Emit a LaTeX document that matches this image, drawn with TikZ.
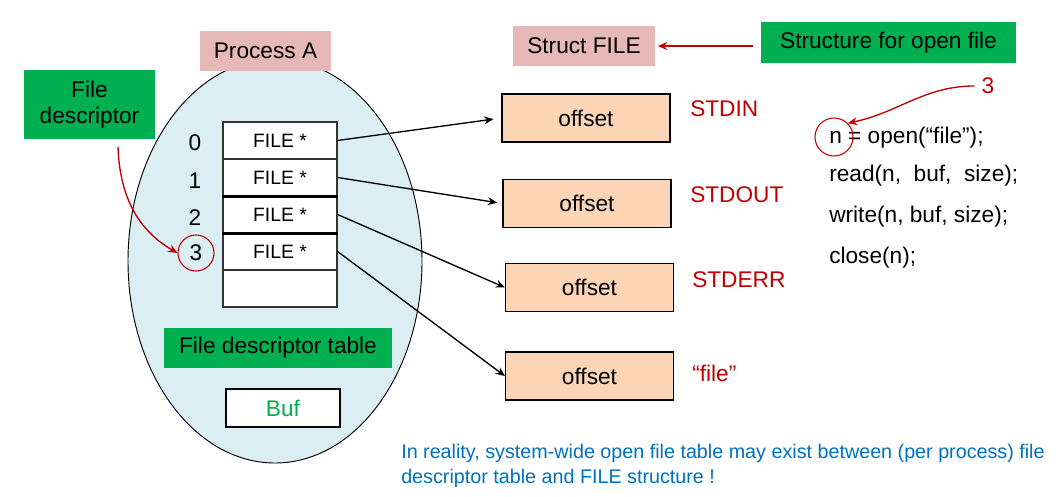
\documentclass[tikz,border=0pt]{standalone}
\usepackage{fontspec}
\setmainfont{Liberation Sans}
\usetikzlibrary{arrows.meta,positioning,calc,shapes.geometric}
\definecolor{ink}{HTML}{000000}
\definecolor{grn}{HTML}{00B050}
\definecolor{rose}{HTML}{E6B9B8}
\definecolor{peach}{HTML}{FBD5B5}
\definecolor{sky}{HTML}{DAEEF3}
\definecolor{redd}{HTML}{C00000}
\definecolor{note}{HTML}{0070C0}
\tikzset{
  every node/.style={font=\fontsize{17}{20}\selectfont,text=ink},
  arr/.style={-{Stealth[length=7pt,width=6pt]},line width=1pt,draw=ink},
  redarr/.style={-{Stealth[length=7pt,width=6pt]},line width=1pt,draw=redd},
  rosebox/.style={fill=rose,inner sep=0,minimum height=30pt},
  tagbox/.style={fill=grn,inner sep=0,align=center},
  slot/.style={draw=ink!80,line width=.9pt,fill=white,minimum width=85.5pt,minimum height=27.75pt,inner sep=0,font=\fontsize{14.5}{17}\selectfont},
  offbox/.style={draw=ink,line width=.9pt,fill=peach,minimum width=126pt,minimum height=36pt,inner sep=0},
  redlbl/.style={text=redd,anchor=west,inner sep=0},
  codeln/.style={anchor=west,inner sep=0},
  ring/.style={circle,draw=redd,line width=.8pt,inner sep=0}
}
\begin{document}
\begin{tikzpicture}[x=.75pt,y=-.75pt]
  \path[use as bounding box] (0,0) rectangle (1059,496);

  % process with its descriptor table
  \node[ellipse,draw=ink,line width=.7pt,fill=sky,minimum width=220.5pt,minimum height=303pt,inner sep=0] (proc) at (275,261) {};
  \node[rosebox,minimum width=98pt] (procA) at (265.5,51) {Process A};
  \node[tagbox,minimum width=98pt,minimum height=52pt] (fd) at (89.5,104.5) {File\\descriptor};

  \foreach \i/\t in {0/FILE *,1/FILE *,2/FILE *,3/FILE *,4/} {
    \node[slot] (row\i) at (280,{140.5+37*\i}) {\t};
  }
  \draw[line width=2.2pt] (row1.south west) -- (row1.south east);
  \draw[line width=2.2pt] (row2.south west) -- (row2.south east);

  \node (idx0) at (195,143) {0};
  \node (idx1) at (195,181) {1};
  \node (idx2) at (195,218) {2};
  \node[ring,minimum size=27pt] (idx3) at (196,253) {3};

  \coordinate (fdtail) at (118,147);
  \draw[redarr] (fdtail) to[out=-88,in=150] (idx3.west);

  \node[tagbox,minimum width=171pt,minimum height=30pt] (fdt) at (278,348) {File descriptor table};
  \node[draw=ink,line width=.9pt,fill=white,minimum width=85.5pt,minimum height=28.5pt,inner sep=0,text=grn] (buf) at (283,408) {Buf};

  % FILE structures
  \node[rosebox,minimum width=106.5pt] (sfile) at (584,46) {Struct FILE};
  \node[tagbox,minimum width=191pt,minimum height=31pt] (sfo) at (888.5,42.5) {Structure for open file};
  \draw[redarr,shorten <=6pt,shorten >=2pt] (sfo.west |- sfile) -- (sfile.east);

  \node[offbox] (off0) at (586,118) {offset};
  \node[offbox] (off1) at (587,203.5) {offset};
  \node[offbox] (off2) at (589.5,287.5) {offset};
  \node[offbox] (off3) at (589.5,376) {offset};

  \node[redlbl] (lin) at (690,109) {STDIN};
  \node[redlbl] (lout) at (690,195) {STDOUT};
  \node[redlbl] (lerr) at (692,280) {STDERR};
  \node[redlbl] (lfile) at (692,373) {“file”};

  \draw[arr,shorten >=6pt] (row0.east) -- (off0.west);
  \draw[arr,shorten >=4pt] (row1.east) -- (off1.west);
  \draw[arr] (row2.east) -- (off2.west);
  \draw[arr] (row3.east) -- (off3.west);

  % user code
  \node[codeln] (code0) at (829,138) {n = open(“file”);};
  \node[codeln] (code1) at (829,176) {read(n,\ \ buf,\ \ size);};
  \node[codeln] (code2) at (829,217) {write(n, buf, size);};
  \node[codeln] (code3) at (829,258) {close(n);};
  \node[ring,minimum size=28.5pt] (ncirc) at (834,137) {};
  \node[text=redd] (three) at (988,86) {3};
  \draw[redarr,shorten <=2pt] (three.west) to[out=180,in=12] (ncirc.north east);

  \node[anchor=west,inner sep=0,align=left,text=note,font=\fontsize{14.8}{18.75}\selectfont] (remark) at (401,466) {In reality, system-wide open file table may exist between (per process) file\\descriptor table and FILE structure !};
\end{tikzpicture}
\end{document}
